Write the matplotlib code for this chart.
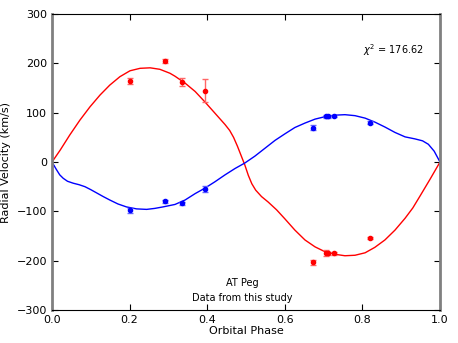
import numpy as np
import matplotlib
matplotlib.use('Agg')
import matplotlib.pyplot as plt

# observed points (phase, RV, error)
phase_obs = [0.200, 0.290, 0.335, 0.395, 0.673, 0.707, 0.712, 0.726, 0.820]
rv1 = [165, 205, 162, 145, -203, -185, -185, -185, -155]
err1 = [6, 4, 8, 24, 5, 6, 3, 3, 2]
rv2 = [-98, -80, -84, -55, 70, 93, 93, 94, 80]
err2 = [5, 3, 3, 6, 6, 3, 3, 2, 3]

# model curves
ph_red = [0.0, 0.021, 0.046, 0.072, 0.098, 0.124, 0.149, 0.175, 0.201,
          0.227, 0.253, 0.278, 0.304, 0.317, 0.343, 0.369, 0.394, 0.420,
          0.446, 0.458, 0.468, 0.478, 0.487, 0.497, 0.506, 0.515, 0.525,
          0.540, 0.557, 0.579, 0.600, 0.626, 0.652, 0.678, 0.704, 0.729,
          0.755, 0.781, 0.807, 0.832, 0.858, 0.884, 0.910, 0.930, 0.950,
          0.975, 1.0]
rv_red = [0, 24, 55, 85, 112, 136, 156, 173, 185,
          190, 191, 188, 180, 174, 160, 143, 122, 99,
          76, 64, 50, 32, 14, -6, -27, -44, -57,
          -70, -81, -97, -115, -138, -158, -172, -182, -187,
          -190, -189, -184, -173, -158, -138, -114, -93, -67,
          -34, 0]
ph_blue = [0.0, 0.006, 0.012, 0.020, 0.029, 0.040, 0.055, 0.070, 0.085,
           0.100, 0.116, 0.132, 0.149, 0.170, 0.192, 0.218, 0.244, 0.265,
           0.286, 0.317, 0.343, 0.369, 0.394, 0.420, 0.446, 0.472, 0.497,
           0.523, 0.549, 0.575, 0.600, 0.626, 0.652, 0.678, 0.704, 0.729,
           0.755, 0.781, 0.807, 0.832, 0.858, 0.884, 0.910, 0.935, 0.955,
           0.970, 0.985, 1.0]
rv_blue = [0, -8, -16, -26, -33, -39, -43, -46, -50,
           -56, -63, -70, -77, -85, -91, -95, -96, -94,
           -91, -86, -77, -64, -53, -40, -26, -13, -2,
           12, 28, 44, 57, 70, 79, 87, 92, 95,
           96, 94, 89, 81, 71, 60, 51, 47, 43,
           36, 22, 0]

plt.rcParams['font.size'] = 8
plt.rcParams['xtick.direction'] = 'in'
plt.rcParams['ytick.direction'] = 'in'

fig = plt.figure(figsize=(4.58, 3.43), dpi=100)
ax = fig.add_axes([0.1135, 0.0962, 0.8472, 0.8628])

ax.plot(ph_red, rv_red, color='red', lw=1)
ax.plot(ph_blue, rv_blue, color='blue', lw=1)
ax.errorbar(phase_obs, rv1, yerr=err1, fmt='o', color='red', ms=3,
            ecolor=(1, 0.4, 0.4), capsize=2, elinewidth=1)
ax.errorbar(phase_obs, rv2, yerr=err2, fmt='o', color='blue', ms=3,
            ecolor=(0.4, 0.4, 1), capsize=2, elinewidth=1)

ax.set_xlim(0, 1)
ax.set_ylim(-300, 300)
ax.set_xticks([0.0, 0.2, 0.4, 0.6, 0.8, 1.0])
ax.set_yticks([-300, -200, -100, 0, 100, 200, 300])
ax.tick_params(top=True, right=True, length=4)
for s in ['left', 'right']:
    ax.spines[s].set_color('gray')
    ax.spines[s].set_linewidth(2)

ax.set_xlabel('Orbital Phase', labelpad=1)
ax.set_ylabel('Radial Velocity (km/s)')
ax.text(0.88, 227, r'$\chi^2$ = 176.62', ha='center', va='center', fontsize=7)
ax.text(0.49, -245, 'AT Peg', ha='center', va='center', fontsize=7)
ax.text(0.49, -276, 'Data from this study', ha='center', va='center', fontsize=7)

fig.savefig('out.png')
